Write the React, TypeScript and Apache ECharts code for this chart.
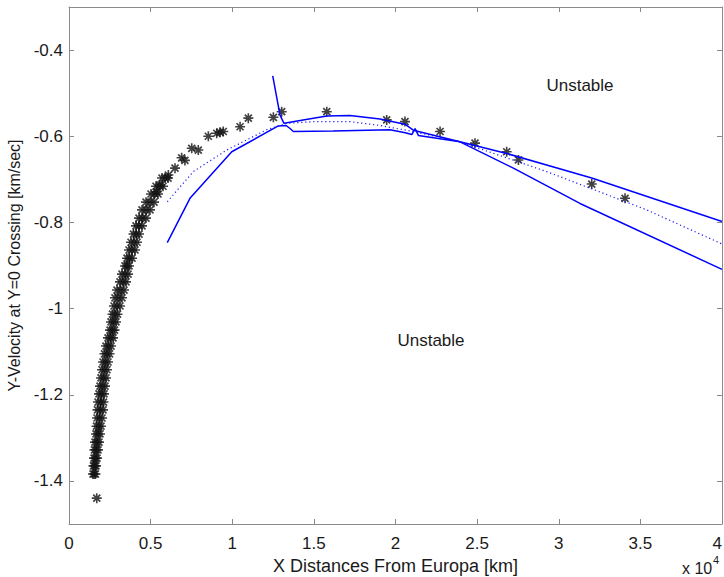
import React, { useEffect, useRef } from "react";
import * as echarts from "echarts";

// Dense cluster of star markers: rows (y) with left / middle / right x positions
const clusterY = [
  -1.384, -1.365, -1.347, -1.328, -1.31, -1.291, -1.273, -1.254, -1.235, -1.217,
  -1.198, -1.18, -1.161, -1.142, -1.124, -1.105, -1.087, -1.068, -1.05, -1.031,
  -1.013, -0.994, -0.975, -0.957, -0.938, -0.92, -0.901, -0.883, -0.864, -0.846,
  -0.827, -0.808, -0.79, -0.771, -0.753, -0.734, -0.716, -0.697,
];
const clusterLeftX = [
  1470, 1501, 1532, 1562, 1593, 1654, 1685, 1715, 1746, 1777,
  1838, 1899, 1960, 2022, 2083, 2175, 2267, 2389, 2512, 2573,
  2665, 2757, 2818, 2940, 3124, 3247, 3431, 3553, 3676, 3798,
  3951, 4104, 4288, 4472, 4717, 5023, 5330, 5697,
];
const clusterMidX = [
  1547, 1578, 1623, 1669, 1715, 1777, 1823, 1868, 1914, 1945,
  1991, 2052, 2113, 2175, 2236, 2328, 2420, 2542, 2650, 2726,
  2818, 2940, 3032, 3155, 3308, 3431, 3553, 3706, 3859, 3982,
  4120, 4288, 4503, 4717, 4962, 5238, 5544, 5881,
];
const clusterRightX = [
  1623, 1654, 1715, 1777, 1838, 1899, 1960, 2022, 2083, 2113,
  2144, 2205, 2267, 2328, 2389, 2481, 2573, 2695, 2787, 2879,
  2971, 3124, 3247, 3369, 3492, 3614, 3676, 3859, 4043, 4166,
  4288, 4472, 4717, 4962, 5207, 5452, 5758, 6065,
];
// Individual star markers
const sparseStars = [
  [1700, -1.44],
  [5370, -0.729], [5575, -0.713], [6085, -0.69], [6494, -0.674], [6900, -0.65],
  [7100, -0.656], [7520, -0.628], [7920, -0.632], [8535, -0.6], [9050, -0.593],
  [9250, -0.591], [9450, -0.589], [10480, -0.578], [10985, -0.558], [12520, -0.556],
  [13030, -0.543], [15790, -0.543], [19460, -0.562], [20580, -0.566], [22730, -0.589],
  [24870, -0.616], [26810, -0.636], [27530, -0.655], [32020, -0.711], [34060, -0.744],
];
// Blue curves
const upperLine = [
  [12480, -0.46], [12925, -0.551], [13170, -0.57], [14970, -0.558], [15800, -0.553],
  [17210, -0.552], [19050, -0.56], [20580, -0.572], [21090, -0.586], [23950, -0.613],
  [26810, -0.64], [32020, -0.697], [40000, -0.798],
];
const lowerLine = [
  [6020, -0.847], [7410, -0.744], [9970, -0.636], [12820, -0.576], [13300, -0.575],
  [13540, -0.582], [13740, -0.589], [16170, -0.588], [19660, -0.585], [20600, -0.592],
  [21000, -0.596], [21200, -0.582], [21400, -0.598], [23950, -0.613], [27220, -0.674],
  [31300, -0.756], [40000, -0.909],
];
const dottedLine = [
  [6020, -0.752], [7615, -0.682], [9660, -0.632], [12110, -0.585], [13330, -0.57],
  [14970, -0.566], [17210, -0.566], [19050, -0.575], [21090, -0.589], [23950, -0.613],
  [29260, -0.682], [35390, -0.771], [40000, -0.85],
];
const yTickValues = [-1.4, -1.2, -1, -0.8, -0.6, -0.4];

const FONT = "'Liberation Sans', Arial, sans-serif";
const AXIS_COLOR = "#8a8a8a";
const TEXT_COLOR = "#1a1a1a";
const STAR =
  "path://M4.2 0H5.8V10H4.2Z M0 4.2H10V5.8H0Z M0.9 2.1L2.1 0.9L9.1 7.9L7.9 9.1Z M7.9 0.9L9.1 2.1L2.1 9.1L0.9 7.9Z";

export default function App() {
  const ref = useRef<HTMLDivElement>(null);
  useEffect(() => {
    if (!ref.current) return;
    const chart = echarts.init(ref.current, undefined, { renderer: "svg" });
    const stars: number[][] = [];
    clusterY.forEach((y, i) => {
      stars.push([clusterLeftX[i], y]);
      stars.push([clusterMidX[i], y]);
      stars.push([clusterRightX[i], y]);
    });
    sparseStars.forEach((p) => stars.push(p));

    const baseX = {
      type: "value" as const,
      min: 0,
      max: 40000,
      interval: 5000,
      splitLine: { show: false },
      axisLine: { show: true, onZero: false, lineStyle: { color: AXIS_COLOR, width: 1 } },
      axisTick: { show: true, inside: true, length: 5, lineStyle: { color: AXIS_COLOR } },
    };
    const baseY = {
      type: "value" as const,
      min: -1.5,
      max: -0.3,
      splitLine: { show: false },
      axisLine: { show: true, onZero: false, lineStyle: { color: AXIS_COLOR, width: 1 } },
      axisTick: {
        show: true,
        inside: true,
        length: 5,
        customValues: yTickValues,
        lineStyle: { color: AXIS_COLOR },
      },
    };

    chart.setOption({
      animation: false,
      backgroundColor: "#ffffff",
      grid: {
        left: 69,
        right: 2,
        top: 7,
        bottom: 53,
        containLabel: false,
        outerBoundsMode: "none",
      },
      xAxis: [
        {
          ...baseX,
          position: "bottom",
          name: "X Distances From Europa [km]",
          nameLocation: "middle",
          nameGap: 32,
          nameTextStyle: { fontFamily: FONT, fontSize: 18, color: TEXT_COLOR },
          axisLabel: {
            margin: 11,
            fontFamily: FONT,
            fontSize: 17,
            color: TEXT_COLOR,
            alignMaxLabel: "right",
            formatter: (v: number) => String(v / 10000),
          },
        },
        { ...baseX, position: "top", axisLabel: { show: false } },
      ],
      yAxis: [
        {
          ...baseY,
          position: "left",
          name: "Y-Velocity at Y=0 Crossing [km/sec]",
          nameLocation: "middle",
          nameGap: 44,
          nameRotate: 90,
          nameTextStyle: { fontFamily: FONT, fontSize: 16, color: TEXT_COLOR },
          axisLabel: {
            margin: 6,
            fontFamily: FONT,
            fontSize: 17,
            color: TEXT_COLOR,
            customValues: yTickValues,
            formatter: (v: number) => String(Math.round(v * 10) / 10),
          },
        },
        { ...baseY, position: "right", axisLabel: { show: false } },
      ],
      series: [
        {
          type: "scatter",
          data: stars,
          symbol: STAR,
          symbolSize: 10,
          itemStyle: { color: "#111111" },
          silent: true,
          z: 2,
        },
        {
          type: "line",
          data: lowerLine,
          symbol: "none",
          lineStyle: { color: "#0000ff", width: 1.5 },
          z: 3,
        },
        {
          type: "line",
          data: upperLine,
          symbol: "none",
          lineStyle: { color: "#0000ff", width: 1.5 },
          z: 3,
        },
        {
          type: "line",
          data: dottedLine,
          symbol: "none",
          lineStyle: { color: "#1a1aff", width: 1.2, type: [1.2, 2.8] },
          z: 3,
        },
      ],
      graphic: [
        {
          type: "text",
          x: 580,
          y: 85,
          style: {
            text: "Unstable",
            fontFamily: FONT,
            fontSize: 17,
            fill: TEXT_COLOR,
            textAlign: "center",
            textVerticalAlign: "middle",
          },
        },
        {
          type: "text",
          x: 431,
          y: 340,
          style: {
            text: "Unstable",
            fontFamily: FONT,
            fontSize: 17,
            fill: TEXT_COLOR,
            textAlign: "center",
            textVerticalAlign: "middle",
          },
        },
        {
          type: "text",
          x: 682,
          y: 568,
          style: {
            text: "x 10",
            fontFamily: FONT,
            fontSize: 16,
            fill: TEXT_COLOR,
            textAlign: "left",
            textVerticalAlign: "middle",
          },
        },
        {
          type: "text",
          x: 713,
          y: 560,
          style: {
            text: "4",
            fontFamily: FONT,
            fontSize: 11,
            fill: TEXT_COLOR,
            textAlign: "left",
            textVerticalAlign: "middle",
          },
        },
      ],
    });
    return () => chart.dispose();
  }, []);
  return (
    <div
      ref={ref}
      style={{ position: "absolute", left: 0, top: 0, width: 724, height: 577 }}
    />
  );
}
